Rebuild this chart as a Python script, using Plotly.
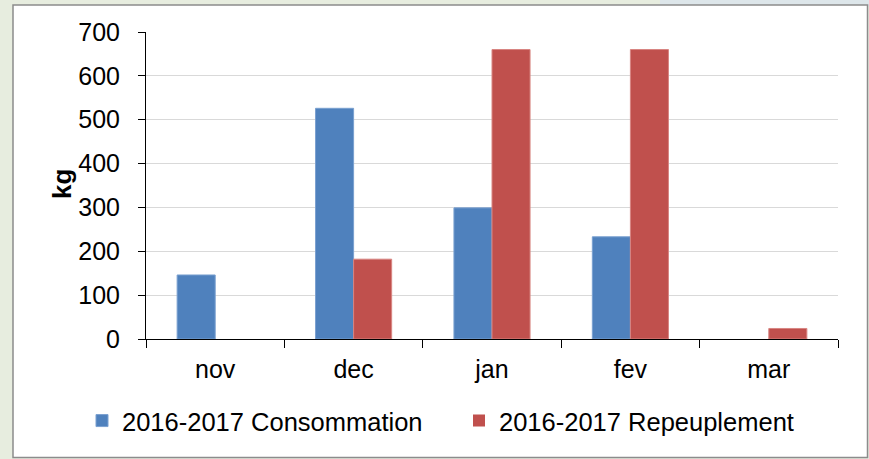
import plotly.graph_objects as go

months = ["nov", "dec", "jan", "fev", "mar"]
consommation = [146, 526, 299, 233, 0]
repeuplement = [0, 182, 660, 660, 24]
y_ticks = [0, 100, 200, 300, 400, 500, 600, 700]

W, H = 869, 459
L, R, T, B = 146, 31, 32, 120
pw, ph = W - L - R, H - T - B

def px(x):
    return (x - L) / pw

def py(y):
    return (H - B - y) / ph

font = "Liberation Sans, Arial, sans-serif"

fig = go.Figure()
fig.add_trace(go.Bar(x=months, y=consommation, name="2016-2017 Consommation",
                     marker=dict(color="#4f81bd",
                                 line=dict(color="#7aa0d0",
                                           width=[1 if v else 0 for v in consommation]))))
fig.add_trace(go.Bar(x=months, y=repeuplement, name="2016-2017 Repeuplement",
                     marker=dict(color="#c0504d",
                                 line=dict(color="#d88582",
                                           width=[1 if v else 0 for v in repeuplement]))))

fig.update_layout(
    width=W, height=H,
    margin=dict(l=L, r=R, t=T, b=B, autoexpand=False),
    paper_bgcolor="#e7eddf",
    plot_bgcolor="rgba(0,0,0,0)",
    barmode="group", bargap=0.45, bargroupgap=0,
    font=dict(family=font, size=25, color="#000000"),
    showlegend=True,
    legend=dict(orientation="h", x=px(82), xanchor="left", y=py(421), yanchor="middle",
                font=dict(size=25.5), bgcolor="rgba(0,0,0,0)", itemwidth=30,
                entrywidth=332, traceorder="normal"),
    xaxis=dict(type="category", showline=True, linecolor="#000000", linewidth=1,
               ticks="outside", ticklen=8, tickcolor="#000000", tickson="boundaries",
               showgrid=False, tickfont=dict(size=25), ticklabelstandoff=8,
               range=[-0.5, 4.5]),
    yaxis=dict(range=[0, 700], tickvals=y_ticks, showline=True, linecolor="#000000",
               linewidth=1, ticks="outside", ticklen=7, tickcolor="#000000",
               showgrid=True, gridcolor="#d9d9d9", gridwidth=1, zeroline=False,
               tickfont=dict(size=25), ticklabelstandoff=13),
    shapes=[
        dict(type="rect", xref="paper", yref="paper", layer="below",
             x0=px(660), x1=px(869), y0=py(0), y1=py(6),
             fillcolor="#dde6ea", line=dict(width=0)),
        dict(type="rect", xref="paper", yref="paper", layer="below",
             x0=px(13), x1=px(867.5), y0=py(457.5), y1=py(5),
             fillcolor="#ffffff", line=dict(color="#8c8c8c", width=1.5)),
    ],
    annotations=[
        dict(text="<b>kg</b>", xref="paper", yref="paper", x=px(62), y=py(184),
             textangle=-90, showarrow=False, font=dict(size=26),
             xanchor="center", yanchor="middle"),
    ],
)

fig.write_html("out.html", config={"displayModeBar": False},
               post_script="document.body.style.margin='0';")
